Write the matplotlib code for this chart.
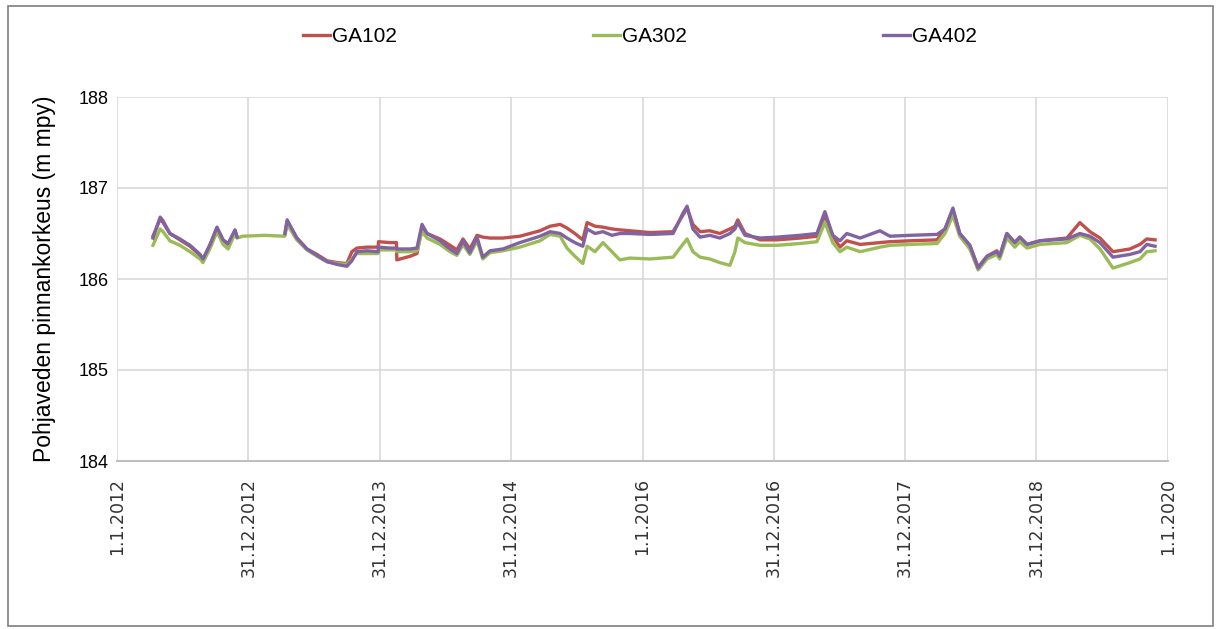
import numpy as np
import pandas as pd
import matplotlib
matplotlib.use("Agg")
import matplotlib.pyplot as plt
from matplotlib.patches import Rectangle

nan = np.nan

# mittausajankohdat
paivat = [
    "2012-04-10", "2012-04-30", "2012-05-08", "2012-05-27", "2012-06-24", "2012-07-22",
    "2012-08-19", "2012-08-27", "2012-09-16", "2012-10-05", "2012-10-22", "2012-11-05",
    "2012-11-24", "2012-11-30", "2012-12-15", "2013-02-15", "2013-04-11",
    "2013-04-12", "2013-04-18", "2013-05-15", "2013-06-12", "2013-07-10", "2013-08-07",
    "2013-09-04", "2013-10-01", "2013-10-15", "2013-10-29", "2013-11-26", "2013-12-27",
    "2013-12-28", "2014-01-29", "2014-02-16", "2014-02-17", "2014-03-26", "2014-04-14",
    "2014-04-28", "2014-05-12", "2014-06-17", "2014-07-15", "2014-08-03", "2014-08-20",
    "2014-09-08", "2014-09-28", "2014-10-14", "2014-11-03", "2014-12-09", "2015-01-25",
    "2015-03-22", "2015-04-19", "2015-05-17", "2015-06-05", "2015-06-27", "2015-07-19",
    "2015-07-31", "2015-08-22", "2015-09-13", "2015-10-08", "2015-10-30", "2015-11-27",
    "2016-01-22", "2016-03-26", "2016-04-22", "2016-05-04", "2016-05-20", "2016-06-09",
    "2016-07-06", "2016-08-03", "2016-08-31", "2016-09-14", "2016-09-22", "2016-10-12",
    "2016-11-23", "2017-01-09", "2017-03-14", "2017-04-30", "2017-05-22", "2017-06-13",
    "2017-07-03", "2017-07-22", "2017-08-28", "2017-10-22", "2017-11-19", "2018-01-14",
    "2018-03-30", "2018-04-21", "2018-05-13", "2018-06-01", "2018-06-29", "2018-07-22",
    "2018-08-16", "2018-09-12", "2018-09-20", "2018-10-10", "2018-11-01", "2018-11-15",
    "2018-12-05", "2019-01-10", "2019-03-26", "2019-05-01", "2019-05-29", "2019-06-26",
    "2019-08-01", "2019-09-17", "2019-10-15", "2019-11-03", "2019-11-26",
]

ga102 = [
    186.47, 186.66, 186.62, 186.50, 186.43, 186.36,
    186.26, 186.21, 186.38, 186.56, 186.42, 186.38,
    186.53, 186.46, nan, nan, nan,
    186.50, 186.63, 186.45, 186.33, 186.27, 186.20,
    186.18, 186.17, 186.30, 186.34, 186.35, 186.35,
    186.41, 186.40, 186.40, 186.21, 186.25, 186.28,
    186.57, 186.50, 186.44, 186.37, 186.32, 186.44,
    186.33, 186.48, 186.46, 186.45, 186.45, 186.47,
    186.53, 186.58, 186.60, 186.56, 186.50, 186.43,
    186.62, 186.58, 186.57, 186.55, 186.54, 186.53,
    186.51, 186.52, 186.70, 186.78, 186.60, 186.52,
    186.53, 186.50, 186.55, 186.58, 186.65, 186.50,
    186.43, 186.43, 186.45, 186.47, 186.70, 186.47,
    186.35, 186.42, 186.38, 186.40, 186.41, 186.42,
    186.43, 186.55, 186.76, 186.50, 186.37, 186.13,
    186.25, 186.31, 186.25, 186.50, 186.40, 186.46,
    186.38, 186.42, 186.45, 186.62, 186.52, 186.45,
    186.30, 186.33, 186.38, 186.44, 186.43,
]

ga302 = [
    186.37, 186.55, 186.52, 186.42, 186.37, 186.30,
    186.22, 186.18, 186.34, 186.52, 186.38, 186.33,
    186.50, 186.45, 186.47, 186.48, 186.47,
    186.48, 186.60, 186.43, 186.32, 186.25, 186.19,
    186.17, 186.16, 186.22, 186.28, 186.28, 186.28,
    186.32, 186.32, 186.32, 186.30, 186.30, 186.31,
    186.52, 186.45, 186.38, 186.30, 186.26, 186.38,
    186.27, 186.42, 186.22, 186.29, 186.31, 186.35,
    186.42, 186.49, 186.47, 186.34, 186.25, 186.17,
    186.36, 186.30, 186.40, 186.30, 186.21, 186.23,
    186.22, 186.24, 186.38, 186.44, 186.30, 186.24,
    186.22, 186.18, 186.15, 186.30, 186.45, 186.40,
    186.37, 186.37, 186.39, 186.41, 186.62, 186.40,
    186.30, 186.35, 186.30, 186.35, 186.37, 186.38,
    186.39, 186.50, 186.70, 186.47, 186.33, 186.10,
    186.22, 186.27, 186.22, 186.45, 186.35, 186.41,
    186.34, 186.38, 186.40, 186.48, 186.44, 186.33,
    186.12, 186.18, 186.22, 186.30, 186.31,
]

ga402 = [
    186.45, 186.68, 186.64, 186.50, 186.44, 186.37,
    186.27, 186.22, 186.38, 186.57, 186.43, 186.39,
    186.54, 186.46, nan, nan, nan,
    186.50, 186.65, 186.45, 186.33, 186.26, 186.19,
    186.16, 186.14, 186.20, 186.30, 186.31, 186.30,
    186.35, 186.34, 186.34, 186.33, 186.33, 186.34,
    186.60, 186.50, 186.42, 186.33, 186.28, 186.42,
    186.29, 186.46, 186.24, 186.31, 186.33, 186.40,
    186.47, 186.52, 186.50, 186.45, 186.40, 186.36,
    186.55, 186.50, 186.52, 186.48, 186.50, 186.50,
    186.49, 186.50, 186.72, 186.80, 186.55, 186.46,
    186.48, 186.45, 186.50, 186.55, 186.62, 186.48,
    186.45, 186.46, 186.48, 186.50, 186.74, 186.48,
    186.42, 186.50, 186.45, 186.53, 186.47, 186.48,
    186.49, 186.55, 186.78, 186.50, 186.37, 186.12,
    186.25, 186.30, 186.25, 186.50, 186.40, 186.46,
    186.38, 186.42, 186.44, 186.50, 186.47, 186.40,
    186.24, 186.27, 186.30, 186.38, 186.36,
]

sarjat = ["GA102", "GA302", "GA402"]
varit = ["#C0504D", "#9BBB59", "#8064A2"]

x_alku = pd.Timestamp("2012-01-01")
x_loppu = pd.Timestamp("2020-01-01")
tikit = [x_alku + pd.Timedelta(days=int(i * 365.25)) for i in range(9)]

plt.rcParams['font.family'] = ['Liberation Sans', 'DejaVu Sans']

fig = plt.figure(figsize=(12.21, 6.29), dpi=100)
ax = fig.add_axes([117 / 1221, 1 - 461 / 629, (1168 - 117) / 1221, (461 - 97) / 629])

t = pd.to_datetime(paivat)
for nimi, arvot, vari in zip(sarjat, [ga102, ga302, ga402], varit):
    ax.plot(t, arvot, color=vari, linewidth=2.4, label=nimi)

ax.set_xlim(x_alku, x_loppu)
ax.set_ylim(184, 188)
ax.set_yticks([184, 185, 186, 187, 188])
ax.set_xticks(tikit)
ax.set_xticklabels([d.strftime("%-d.%-m.%Y") for d in tikit], rotation=90,
                   fontsize=12.5, family='DejaVu Sans', color='#333333')
ax.tick_params(axis='y', labelsize=13, length=0, pad=6)
ax.tick_params(axis='x', length=0, pad=12)
ax.grid(True, color='#D9D9D9', linewidth=1.2)
ax.set_axisbelow(True)
for s in ['top', 'right', 'left']:
    ax.spines[s].set_visible(False)
ax.spines['bottom'].set_color('#BFBFBF')
ax.spines['bottom'].set_linewidth(1.5)

ax.set_ylabel("Pohjaveden pinnankorkeus (m mpy)", fontsize=16.5, labelpad=16)

fig.legend(loc='center', bbox_to_anchor=(0.524, 1 - 37 / 629), ncol=3, frameon=False,
           fontsize=15, handlelength=1.3, handletextpad=0.1, columnspacing=9.4)

fig.patches.append(Rectangle((8 / 1221, 3 / 629), 1205 / 1221, 620 / 629,
                             transform=fig.transFigure, fill=False,
                             edgecolor='#7F7F7F', linewidth=1.2))

fig.savefig("out.png", dpi=100)
